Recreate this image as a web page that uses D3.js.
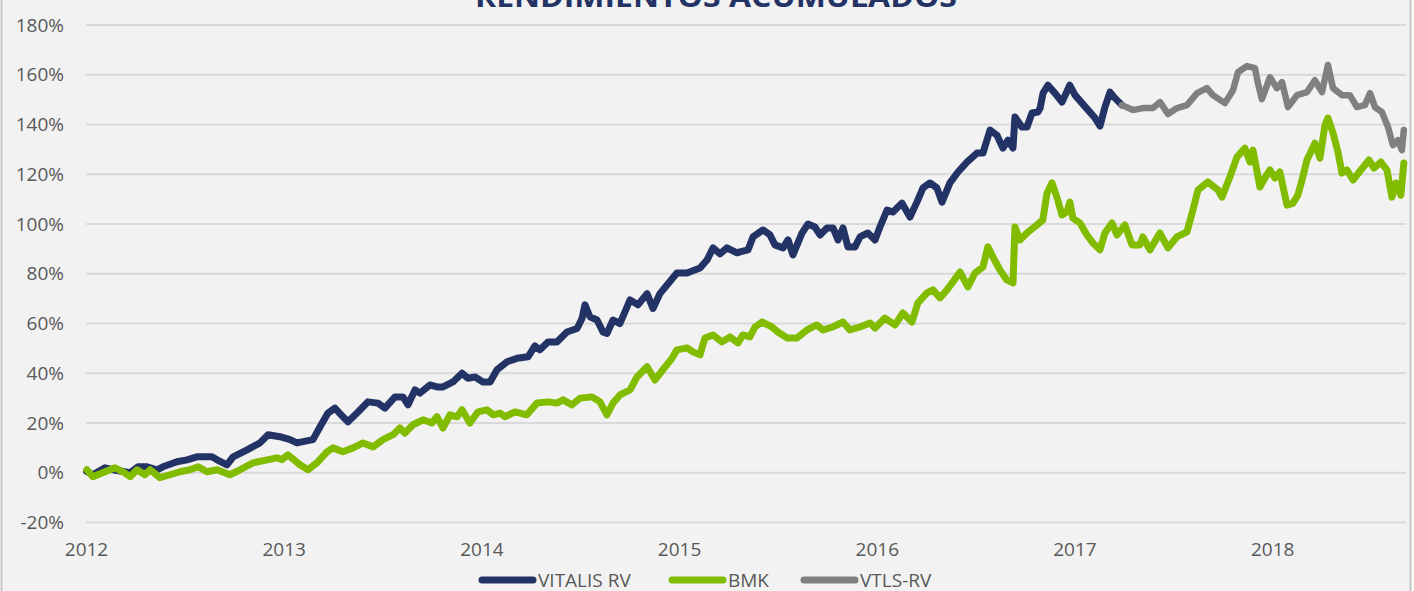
<!DOCTYPE html>
<meta charset="utf-8">
<script src="https://d3js.org/d3.v7.min.js"></script>
<style>
  body { margin: 0; background: #ffffff; }
  text { font-family: "Open Sans", sans-serif; }
</style>
<body>
<div id="chart"></div>
<script>
  // tick labels
  var years = [2012, 2013, 2014, 2015, 2016, 2017, 2018];
  var yTicks = [-20, 0, 20, 40, 60, 80, 100, 120, 140, 160, 180];

  // VITALIS RV (decimal year, cumulative %)
  var vitalisT = [
    2012.003, 2012.035, 2012.096, 2012.137, 2012.223, 2012.263, 2012.309, 2012.359, 2012.389, 2012.460,
    2012.511, 2012.561, 2012.637, 2012.663, 2012.713, 2012.744, 2012.815, 2012.880, 2012.921, 2012.981,
    2013.032, 2013.067, 2013.148, 2013.184, 2013.224, 2013.259, 2013.300, 2013.325, 2013.371, 2013.426,
    2013.477, 2013.512, 2013.563, 2013.603, 2013.629, 2013.664, 2013.689, 2013.740, 2013.775, 2013.806,
    2013.856, 2013.902, 2013.932, 2013.968,
    2014.008, 2014.044, 2014.079, 2014.130, 2014.180, 2014.236, 2014.271, 2014.296, 2014.337, 2014.382,
    2014.433, 2014.484, 2014.509, 2014.524, 2014.549, 2014.585, 2014.615, 2014.635, 2014.666, 2014.701,
    2014.752, 2014.792, 2014.838, 2014.868, 2014.903, 2014.939, 2014.989,
    2015.040, 2015.106, 2015.141, 2015.172, 2015.207, 2015.242, 2015.293, 2015.308, 2015.349, 2015.374,
    2015.424, 2015.460, 2015.485, 2015.526, 2015.551, 2015.576, 2015.622, 2015.652, 2015.687, 2015.713,
    2015.748, 2015.779, 2015.804, 2015.829, 2015.854, 2015.890, 2015.915, 2015.955, 2015.991,
    2016.016, 2016.052, 2016.082, 2016.127, 2016.168, 2016.203, 2016.234, 2016.269, 2016.304, 2016.330,
    2016.370, 2016.411, 2016.456, 2016.507, 2016.537, 2016.557, 2016.573, 2016.608, 2016.638, 2016.664,
    2016.689, 2016.699, 2016.734, 2016.760, 2016.785, 2016.815, 2016.826, 2016.841, 2016.866, 2016.901,
    2016.937, 2016.976,
    2017.003, 2017.038, 2017.078, 2017.104, 2017.129, 2017.154, 2017.180, 2017.205, 2017.240
  ];
  var vitalisV = [
    0.5, -0.8, 2, 1.2, 0, 2.4, 2.4, 1.2, 2.4, 4.4,
    5.2, 6.4, 6.4, 5.2, 3.2, 6.4, 9.2, 12, 15.3, 14.5,
    13.3, 12, 13.3, 18.5, 24, 26, 22.5, 20.5, 24, 28.5,
    28, 26, 30.5, 30.5, 27.3, 33.3, 32, 35.3, 34.5, 34.5,
    36.5, 40, 38, 38.5,
    36.5, 36.5, 41.4, 44.6, 46, 46.6, 51, 49.4, 52.6, 52.6,
    56.6, 58, 62, 67.5, 62.7, 61.4, 56.6, 56, 61.4, 60,
    69.5, 67.5, 72, 66, 72, 75.5, 80.3,
    80.3, 82.3, 85.5, 90.4, 88, 90.4, 88.4, 88.8, 89.6, 94.8,
    97.6, 95.6, 91.6, 90.4, 93.6, 87.6, 96.4, 100, 98.8, 95.6,
    98.4, 98.4, 93.6, 98.4, 90.8, 90.8, 94.8, 96.4, 93.6,
    98.8, 105.6, 104.8, 108.4, 102.8, 108.8, 114.5, 116.5, 114.5, 108.8,
    116.5, 120.9, 124.9, 128.5, 128.5, 133.7, 137.8, 135.7, 130.5, 133.7,
    130.5, 143, 139, 139, 144.6, 145, 146.5, 152.6, 155.8, 152.6,
    149, 155.8,
    151.8, 148.6, 145, 142.6, 139.4, 147, 153, 150.6, 147.8
  ];

  // BMK
  var bmkT = [
    2012.004, 2012.035, 2012.096, 2012.147, 2012.187, 2012.223, 2012.258, 2012.298, 2012.324, 2012.374,
    2012.425, 2012.475, 2012.526, 2012.567, 2012.612, 2012.663, 2012.728, 2012.779, 2012.845, 2012.916,
    2012.966, 2012.991,
    2013.022, 2013.082, 2013.123, 2013.168, 2013.219, 2013.249, 2013.300, 2013.351, 2013.401, 2013.452,
    2013.502, 2013.553, 2013.588, 2013.613, 2013.654, 2013.705, 2013.750, 2013.775, 2013.806, 2013.841,
    2013.877, 2013.902, 2013.942, 2013.983,
    2014.028, 2014.059, 2014.094, 2014.119, 2014.170, 2014.230, 2014.281, 2014.337, 2014.382, 2014.413,
    2014.458, 2014.499, 2014.559, 2014.600, 2014.635, 2014.666, 2014.701, 2014.752, 2014.787, 2014.838,
    2014.878, 2014.918, 2014.964, 2014.989,
    2015.040, 2015.070, 2015.106, 2015.131, 2015.172, 2015.217, 2015.257, 2015.298, 2015.323, 2015.358,
    2015.384, 2015.419, 2015.470, 2015.500, 2015.546, 2015.596, 2015.647, 2015.697, 2015.728, 2015.778,
    2015.829, 2015.864, 2015.915, 2015.966, 2015.991,
    2016.041, 2016.092, 2016.132, 2016.178, 2016.208, 2016.254, 2016.284, 2016.320, 2016.355, 2016.385,
    2016.421, 2016.461, 2016.497, 2016.537, 2016.562, 2016.588, 2016.623, 2016.658, 2016.689, 2016.699,
    2016.724, 2016.765, 2016.810, 2016.840, 2016.861, 2016.886, 2016.911, 2016.937, 2016.962, 2016.977,
    2016.992,
    2017.028, 2017.063, 2017.093, 2017.129, 2017.154, 2017.190, 2017.215, 2017.255, 2017.291, 2017.331,
    2017.346, 2017.382, 2017.432, 2017.473, 2017.518, 2017.569, 2017.599, 2017.625, 2017.675, 2017.726,
    2017.746, 2017.786, 2017.822, 2017.862, 2017.888, 2017.903, 2017.938, 2017.963, 2017.989,
    2018.014, 2018.039, 2018.075, 2018.105, 2018.130, 2018.151, 2018.176, 2018.216, 2018.242, 2018.267,
    2018.282, 2018.308, 2018.333, 2018.353, 2018.378, 2018.409, 2018.449, 2018.490, 2018.515, 2018.550,
    2018.581, 2018.606, 2018.626, 2018.651, 2018.666
  ];
  var bmkV = [
    1.2, -1.6, 0.4, 2, 0.4, -1.6, 1.2, -0.8, 1.2, -2,
    -0.8, 0.4, 1.2, 2.4, 0.4, 1.2, -0.8, 1.2, 4, 5.2,
    6, 5.2,
    7.2, 3.2, 1.2, 4, 8.4, 10, 8.4, 10, 12, 10.4,
    13.3, 15.3, 18, 16, 19.3, 21.3, 20, 22.5, 18, 23.3,
    22.5, 25.3, 20, 24.5,
    25.3, 23.3, 24, 22.5, 24.5, 23.3, 28, 28.5, 28, 29.3,
    27.3, 30, 30.5, 28.5, 23.3, 28, 31.3, 33.3, 38.5, 42.6,
    37.3, 41.4, 46, 49.4,
    50.2, 48.6, 47.4, 54.2, 55.4, 52.6, 54.6, 52.2, 55.4, 54.6,
    58.6, 60.6, 58.6, 56.6, 54.2, 54.2, 57.4, 59.4, 57.4, 58.6,
    60.6, 57.4, 58.6, 60.2, 58.2,
    62.2, 59.4, 64.2, 60.6, 68.3, 72.3, 73.5, 70.3, 73.5, 76.7,
    80.7, 74.7, 80.3, 82.7, 90.8, 86.7, 81.5, 77.5, 76.3, 98.8,
    93.6, 96.8, 99.6, 101.6, 112.4, 116.5, 110.8, 103.6, 104.8, 108.8,
    102.4,
    100.4, 95.6, 92.4, 89.6, 96.4, 100.4, 95.6, 99.6, 91.6, 91.6,
    94.8, 89.6, 96.4, 90.4, 94.8, 96.8, 105.6, 113.7, 116.9, 113.7,
    110.8, 118.9, 126.9, 130.5, 124.9, 129.7, 114.9, 118.5, 121.7,
    118.5, 120.9, 107.6, 108.4, 111.6, 117.7, 125.7, 132.5, 126.5, 139.8,
    142.6, 136.5, 128.9, 120.5, 121.7, 117.7, 121.7, 125.7, 122.5, 124.9,
    121.7, 110.8, 116.5, 111.6, 124.5
  ];

  // VTLS-RV
  var vtlsT = [
    2017.240, 2017.296, 2017.347, 2017.397, 2017.433, 2017.473, 2017.519, 2017.569, 2017.620, 2017.670,
    2017.700, 2017.761, 2017.802, 2017.827, 2017.872, 2017.913, 2017.928, 2017.948, 2017.989,
    2018.024, 2018.050, 2018.080, 2018.126, 2018.176, 2018.216, 2018.252, 2018.282, 2018.308, 2018.353,
    2018.393, 2018.429, 2018.469, 2018.495, 2018.520, 2018.555, 2018.586, 2018.611, 2018.636, 2018.656,
    2018.666
  ];
  var vtlsV = [
    147.8, 145.8, 146.6, 146.6, 149, 144.2, 146.6, 147.8, 152.6, 154.6,
    151.8, 148.6, 153.8, 161, 163.5, 162.7, 156.6, 150.2, 159,
    154.6, 157, 147, 151.8, 153, 157.8, 153, 163.9, 154.6, 151.8,
    151.8, 147, 147.8, 152.6, 147, 145, 139, 131.7, 133.7, 129.7,
    137.8
  ];

  var seriesNames = ["VITALIS RV", "BMK", "VTLS-RV"];
  var seriesColors = ["#243366", "#82bc00", "#808080"];

  var W = 1414, H = 591;

  var svg = d3.select("#chart")
    .append("svg")
    .attr("width", W)
    .attr("height", H);

  // chart area with border
  svg.append("rect")
    .attr("x", 1.5).attr("y", -5)
    .attr("width", 1409).attr("height", H + 10)
    .attr("fill", "#f2f2f2")
    .attr("stroke", "#c4c4c4")
    .attr("stroke-width", 2);

  var x = d3.scaleLinear()
    .domain([2012, 2018.677])
    .range([86, 1406]);

  var y = d3.scaleLinear()
    .domain([-20, 180])
    .range([522.5, 25]);

  // grid lines
  svg.append("g")
    .selectAll("line")
    .data(yTicks)
    .enter()
    .append("line")
      .attr("x1", 86).attr("x2", 1406)
      .attr("y1", function(d) { return y(d); })
      .attr("y2", function(d) { return y(d); })
      .attr("stroke", "#d9d9d9")
      .attr("stroke-width", 2);

  // y axis labels
  var yAxis = svg.append("g")
    .attr("transform", "translate(70,0)")
    .call(d3.axisLeft(y).tickValues(yTicks).tickSize(0).tickFormat(function(d) { return d + "%"; }));
  yAxis.select(".domain").remove();
  yAxis.selectAll("text")
    .attr("x", -6)
    .attr("fill", "#595959")
    .style("font-size", "19px")
    .style("font-family", "Open Sans");

  // x axis labels
  var xAxis = svg.append("g")
    .attr("transform", "translate(0,542)")
    .call(d3.axisBottom(x).tickValues(years).tickSize(0).tickFormat(d3.format("d")));
  xAxis.select(".domain").remove();
  xAxis.selectAll("text")
    .attr("y", 0)
    .attr("fill", "#595959")
    .style("font-size", "19px")
    .style("font-family", "Open Sans");

  var line = d3.line()
    .x(function(d) { return x(d[0]); })
    .y(function(d) { return y(d[1]); });

  var allSeries = [
    d3.zip(vitalisT, vitalisV),
    d3.zip(bmkT, bmkV),
    d3.zip(vtlsT, vtlsV)
  ];

  svg.append("g")
    .selectAll("path")
    .data(allSeries)
    .enter()
    .append("path")
      .attr("d", line)
      .attr("fill", "none")
      .attr("stroke", function(d, i) { return seriesColors[i]; })
      .attr("stroke-width", function(d, i) { return i == 2 ? 6.5 : 7; })
      .attr("stroke-linejoin", "round")
      .attr("stroke-linecap", "round");

  // title (cut off at the top)
  svg.append("text")
    .attr("x", 716)
    .attr("y", 7)
    .attr("text-anchor", "middle")
    .attr("fill", "#243366")
    .attr("textLength", 482)
    .attr("lengthAdjust", "spacingAndGlyphs")
    .style("font-size", "28px")
    .style("font-weight", "bold")
    .text("RENDIMIENTOS ACUMULADOS");

  // legend
  var legendX = [480, 670, 802];
  var legend = svg.append("g")
    .selectAll("g")
    .data(seriesNames)
    .enter()
    .append("g")
      .attr("transform", function(d, i) { return "translate(" + legendX[i] + ",580)"; });

  legend.append("line")
    .attr("x1", 2).attr("x2", 53)
    .attr("y1", 0).attr("y2", 0)
    .attr("stroke", function(d, i) { return seriesColors[i]; })
    .attr("stroke-width", 7)
    .attr("stroke-linecap", "round");

  legend.append("text")
    .attr("x", 58)
    .attr("y", 7)
    .attr("fill", "#595959")
    .style("font-size", "19px")
    .text(function(d) { return d; });
</script>
</body>
